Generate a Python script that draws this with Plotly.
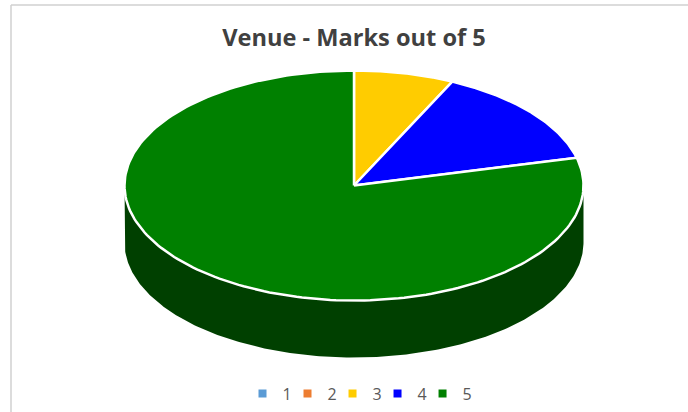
import numpy as np
import plotly.graph_objects as go

title = "Venue - Marks out of 5"
categories = ["1", "2", "3", "4", "5"]
values = [0, 0, 5, 10, 56]
colors = ["#5B9BD5", "#ED7D31", "#FFCC00", "#0000FF", "#008000"]
side_color = "#004000"

W, H = 688, 412
CX, CY, RX, RY, DEPTH = 354, 185.5, 229.5, 115, 57


def arc(a0, a1, n=160):
    t = np.radians(np.linspace(a0, a1, n))
    return CX + RX * np.sin(t), CY - RY * np.cos(t)


fig = go.Figure()

# extruded side of the disc (front half of the rim)
xs, ys = arc(90, 270, 240)
fig.add_trace(go.Scatter(
    x=np.r_[xs, xs[::-1]], y=np.r_[ys, ys[::-1] + DEPTH],
    mode="lines", fill="toself", fillcolor=side_color,
    line=dict(color=side_color, width=0), hoverinfo="skip", showlegend=False))

# slices, clockwise from 12 o'clock
total = sum(values)
start = 0.0
for name, v, c in zip(categories, values, colors):
    sweep = 360.0 * v / total
    if v > 0:
        ax, ay = arc(start, start + sweep, 200)
        fig.add_trace(go.Scatter(
            x=np.r_[CX, ax, CX], y=np.r_[CY, ay, CY],
            mode="lines", fill="toself", fillcolor=c,
            line=dict(color="white", width=2.5), name=name,
            hoverinfo="name", showlegend=False))
    start += sweep

# legend entries
for name, c in zip(categories, colors):
    fig.add_trace(go.Scatter(
        x=[None], y=[None], mode="markers", name=name,
        marker=dict(symbol="square", size=8, color=c)))
# blank spacer entry: keeps the last label from being clipped by the legend box
fig.add_trace(go.Scatter(
    x=[None], y=[None], mode="markers", name=" ",
    marker=dict(symbol="square", size=8, color="rgba(0,0,0,0)")))

fig.update_layout(
    width=W, height=H, autosize=False,
    margin=dict(l=0, r=0, t=0, b=0),
    paper_bgcolor="white", plot_bgcolor="white",
    title=dict(text=f"<b>{title}</b>", x=354 / W, xanchor="center",
               y=1 - 37.5 / H, yanchor="middle",
               font=dict(family="Open Sans", size=23.6, color="#404040")),
    xaxis=dict(range=[0, W], visible=False, fixedrange=True),
    yaxis=dict(range=[H, 0], visible=False, fixedrange=True),
    legend=dict(orientation="h", x=242.5 / W, xanchor="left",
                y=1 - 393.5 / H, yanchor="middle",
                entrywidth=0.01, entrywidthmode="pixels", itemwidth=30,
                font=dict(family="Open Sans", size=16, color="#595959"),
                bgcolor="rgba(0,0,0,0)"),
    shapes=[
        dict(type="line", xref="x", yref="y", x0=11, y0=5, x1=W, y1=5,
             line=dict(color="#D0D0D0", width=1.5)),
        dict(type="line", xref="x", yref="y", x0=11, y0=5, x1=11, y1=H,
             line=dict(color="#D0D0D0", width=1.5)),
    ],
)

fig.write_html("out.html", config={"displayModeBar": False},
               post_script="document.body.style.margin='0';document.body.style.overflow='hidden';")
